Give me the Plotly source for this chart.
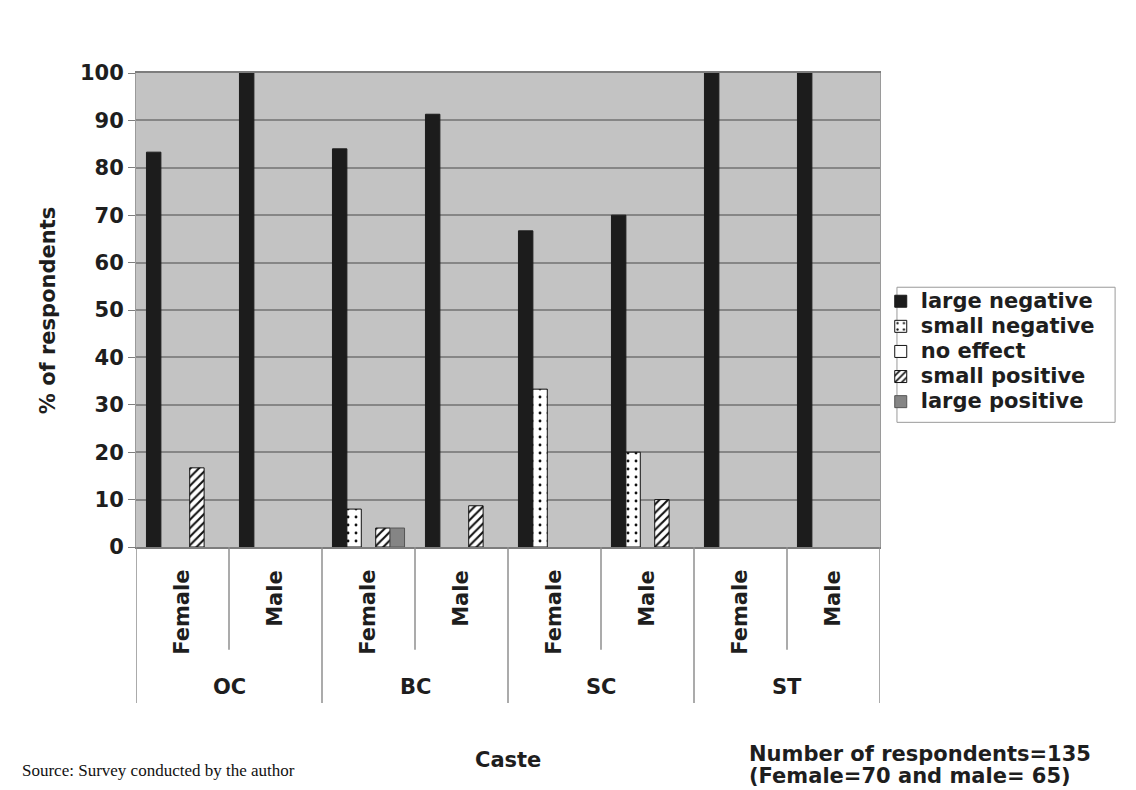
import plotly.graph_objects as go

# Categories: caste groups split by gender
castes = ["OC", "BC", "SC", "ST"]
genders = ["Female", "Male"]
categories = [
    "OC Female", "OC Male",
    "BC Female", "BC Male",
    "SC Female", "SC Male",
    "ST Female", "ST Male",
]

# Share of respondents (%) per effect type
large_negative = [83.3, 100, 84, 91.3, 66.7, 70, 100, 100]
small_negative = [0, 0, 8, 0, 33.3, 20, 0, 0]
no_effect = [0, 0, 0, 0, 0, 0, 0, 0]
small_positive = [16.7, 0, 4, 8.7, 0, 10, 0, 0]
large_positive = [0, 0, 4, 0, 0, 0, 0, 0]

y_ticks = [0, 10, 20, 30, 40, 50, 60, 70, 80, 90, 100]

BOLD = dict(family="DejaVu Sans", size=21, color="#1e1e1e", weight="bold")
OUTLINE = dict(color="#111111", width=1)


def nonzero(values):
    # empty slots are left undrawn instead of as flat outlines
    return [v if v else None for v in values]


def entry(label):
    return f'<span style="font-size:21px">{label}</span>'


fig = go.Figure()
fig.add_trace(go.Bar(
    name=entry("large negative"), x=categories, y=nonzero(large_negative),
    marker=dict(color="#1c1c1c", line=dict(color="#1c1c1c", width=1)),
))
fig.add_trace(go.Bar(
    name=entry("small negative"), x=categories, y=nonzero(small_negative),
    marker=dict(color="white", line=OUTLINE,
                pattern=dict(shape=".", fillmode="replace", bgcolor="white",
                             fgcolor="#111111", size=8, solidity=0.1)),
))
fig.add_trace(go.Bar(
    name=entry("no effect"), x=categories, y=nonzero(no_effect),
    marker=dict(color="white", line=OUTLINE),
))
fig.add_trace(go.Bar(
    name=entry("small positive"), x=categories, y=nonzero(small_positive),
    marker=dict(color="white", line=OUTLINE,
                pattern=dict(shape="/", fillmode="replace", bgcolor="white",
                             fgcolor="#111111", size=6, solidity=0.35)),
))
fig.add_trace(go.Bar(
    name=entry("large positive"), x=categories, y=nonzero(large_positive),
    marker=dict(color="#858585", line=dict(color="#555555", width=1)),
))

# Separator lines under the axis: long between castes, short between genders
shapes = []
for i in range(len(castes) + 1):
    shapes.append(dict(type="line", xref="x", yref="paper",
                       x0=2 * i - 0.5, x1=2 * i - 0.5, y0=0, y1=-0.329,
                       line=dict(color="#8f8f8f", width=1.5)))
for i in range(len(castes)):
    shapes.append(dict(type="line", xref="x", yref="paper",
                       x0=2 * i + 0.5, x1=2 * i + 0.5, y0=0, y1=-0.217,
                       line=dict(color="#8f8f8f", width=1.5)))
# Legend frame
shapes.append(dict(type="rect", xref="paper", yref="paper",
                   x0=1.0228, x1=1.316, y0=0.263, y1=0.548,
                   fillcolor="white", line=dict(color="#9a9a9a", width=1),
                   layer="below"))

annotations = []
for idx, cat in enumerate(categories):
    annotations.append(dict(
        x=cat, xref="x", y=-0.044, yref="paper",
        text=genders[idx % 2], textangle=-90,
        xanchor="center", yanchor="top", showarrow=False, font=BOLD,
    ))
for i, c in enumerate(castes):
    annotations.append(dict(
        x=2 * i + 0.5, xref="x", y=-0.295, yref="paper",
        text=c, xanchor="center", yanchor="middle", showarrow=False, font=BOLD,
    ))
annotations += [
    dict(x=0.5, xref="paper", y=-0.449, yref="paper", text="Caste",
         xanchor="center", yanchor="middle", showarrow=False, font=BOLD),
    dict(x=-0.118, xref="paper", y=0.5, yref="paper", text="% of respondents",
         textangle=-90, xanchor="center", yanchor="middle", showarrow=False,
         font=BOLD),
    dict(x=0.8226, xref="paper", y=-0.436, yref="paper",
         text="Number of respondents=135", borderpad=0,
         xanchor="left", yanchor="middle", showarrow=False, font=BOLD),
    dict(x=0.8226, xref="paper", y=-0.4826, yref="paper",
         text="(Female=70 and male= 65)", borderpad=0,
         xanchor="left", yanchor="middle", showarrow=False, font=BOLD),
    dict(x=-0.156, xref="paper", y=-0.472, yref="paper",
         text="Source: Survey conducted by the author",
         xanchor="left", yanchor="middle", showarrow=False,
         font=dict(family="Liberation Serif", size=17, color="#111111")),
]

fig.update_layout(
    width=1136, height=790,
    margin=dict(l=136, r=256, t=73, b=243, autoexpand=False),
    paper_bgcolor="white",
    plot_bgcolor="#c3c3c3",
    barmode="group",
    bargap=0.225,
    bargroupgap=0,
    showlegend=True,
    legend=dict(x=1.001, y=0.5555, xanchor="left", yanchor="top",
                bgcolor="rgba(0,0,0,0)", borderwidth=0,
                font=dict(family="DejaVu Sans", size=17, color="#1e1e1e",
                          weight="bold"),
                itemwidth=30, traceorder="normal"),
    shapes=shapes,
    annotations=annotations,
    xaxis=dict(type="category", showticklabels=False, ticks="",
               showgrid=False, showline=True, linecolor="#7d7d7d",
               linewidth=1.5, mirror=True, range=[-0.5, 7.5], fixedrange=True),
    yaxis=dict(range=[0, 100], tickvals=y_ticks, ticks="outside", ticklen=7,
               tickcolor="#7d7d7d", showgrid=True, gridcolor="#868686",
               gridwidth=1.5, showline=True, linecolor="#9a9a9a",
               linewidth=1, mirror=True, tickfont=BOLD, zeroline=False,
               fixedrange=True),
)

fig.write_html("out.html")
